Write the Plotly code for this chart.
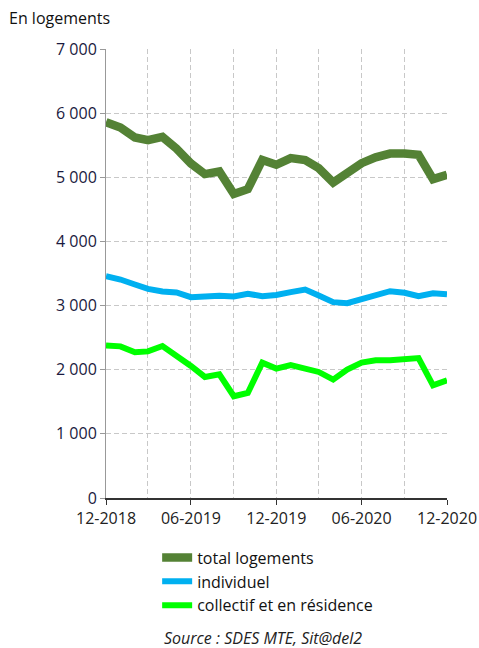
import plotly.graph_objects as go

months = ["2018-12-01", "2019-01-01", "2019-02-01", "2019-03-01", "2019-04-01", "2019-05-01",
          "2019-06-01", "2019-07-01", "2019-08-01", "2019-09-01", "2019-10-01", "2019-11-01",
          "2019-12-01", "2020-01-01", "2020-02-01", "2020-03-01", "2020-04-01", "2020-05-01",
          "2020-06-01", "2020-07-01", "2020-08-01", "2020-09-01", "2020-10-01", "2020-11-01",
          "2020-12-01"]

total = [5860, 5775, 5620, 5578, 5630, 5448, 5215, 5050, 5090, 4740, 4815, 5270,
         5195, 5300, 5267, 5143, 4920, 5060, 5220, 5310, 5370, 5370, 5350, 4972, 5040]
individuel = [3457, 3406, 3328, 3261, 3219, 3204, 3131, 3147, 3152, 3141, 3183, 3147,
              3165, 3209, 3250, 3157, 3053, 3037, 3106, 3157, 3224, 3199, 3147, 3193, 3177]
collectif = [2379, 2364, 2271, 2286, 2369, 2224, 2058, 1887, 1928, 1586, 1638, 2110,
             2017, 2073, 2006, 1965, 1846, 2001, 2110, 2146, 2146, 2157, 2182, 1757, 1835]

series = [
    ("total logements", total, "#548235", 8.5),
    ("individuel", individuel, "#00b0f0", 6),
    ("collectif et en résidence", collectif, "#00ff00", 6),
]

y_ticks = [0, 1000, 2000, 3000, 4000, 5000, 6000, 7000]

FONT = "Open Sans"
GRID_DASH = "5px,3px"

fig = go.Figure()
for name, vals, color, w in series:
    fig.add_trace(go.Scatter(x=months, y=vals, name=name, mode="lines",
                             line=dict(color=color, width=w)))

fig.update_layout(
    width=479, height=648,
    margin=dict(l=106, r=32, t=49, b=150, autoexpand=False),
    paper_bgcolor="white", plot_bgcolor="white",
    separators=", ",
    font=dict(family=FONT, size=16, color="#222222"),
    showlegend=True,
    legend=dict(x=0.15, y=-0.095, xanchor="left", yanchor="top",
                font=dict(size=16, color="#111111"), tracegroupgap=0,
                itemwidth=30, bgcolor="rgba(0,0,0,0)"),
    xaxis=dict(
        type="date",
        range=["2018-12-01", "2020-12-01"],
        tick0="2018-12-01", dtick="M6", tickformat="%m-%Y",
        ticks="outside", ticklen=5, tickcolor="#333333",
        showline=True, linecolor="#333333", linewidth=1.5,
        showgrid=True, gridcolor="#c8c8c8", griddash=GRID_DASH, gridwidth=1,
        minor=dict(dtick="M3", tick0="2018-12-01", showgrid=True,
                   gridcolor="#c8c8c8", griddash=GRID_DASH, ticks=""),
        tickfont=dict(size=16, color="#222222"),
        ticklabeloverflow="allow",
        zeroline=False,
    ),
    yaxis=dict(
        range=[0, 7000],
        tickvals=y_ticks, tickformat=",d",
        ticks="outside", ticklen=5, tickcolor="#999999",
        showline=True, linecolor="#999999", linewidth=1,
        showgrid=True, gridcolor="#c8c8c8", griddash=GRID_DASH, gridwidth=1,
        tickfont=dict(size=16, color="#1a1a40"),
        zeroline=False,
    ),
    annotations=[
        dict(text="En logements", xref="paper", yref="paper",
             x=-0.29, y=1.069, xanchor="left", yanchor="middle", showarrow=False,
             font=dict(size=16, color="#111111")),
        dict(text="<i>Source : SDES MTE, Sit@del2</i>", xref="paper", yref="paper",
             x=0.46, y=-0.312, xanchor="center", yanchor="middle", showarrow=False,
             font=dict(size=16, color="#222222")),
    ],
)

fig.write_html(
    "out.html",
    config={"displayModeBar": False},
    post_script="document.body.style.margin='0';document.body.style.overflow='hidden';",
)
